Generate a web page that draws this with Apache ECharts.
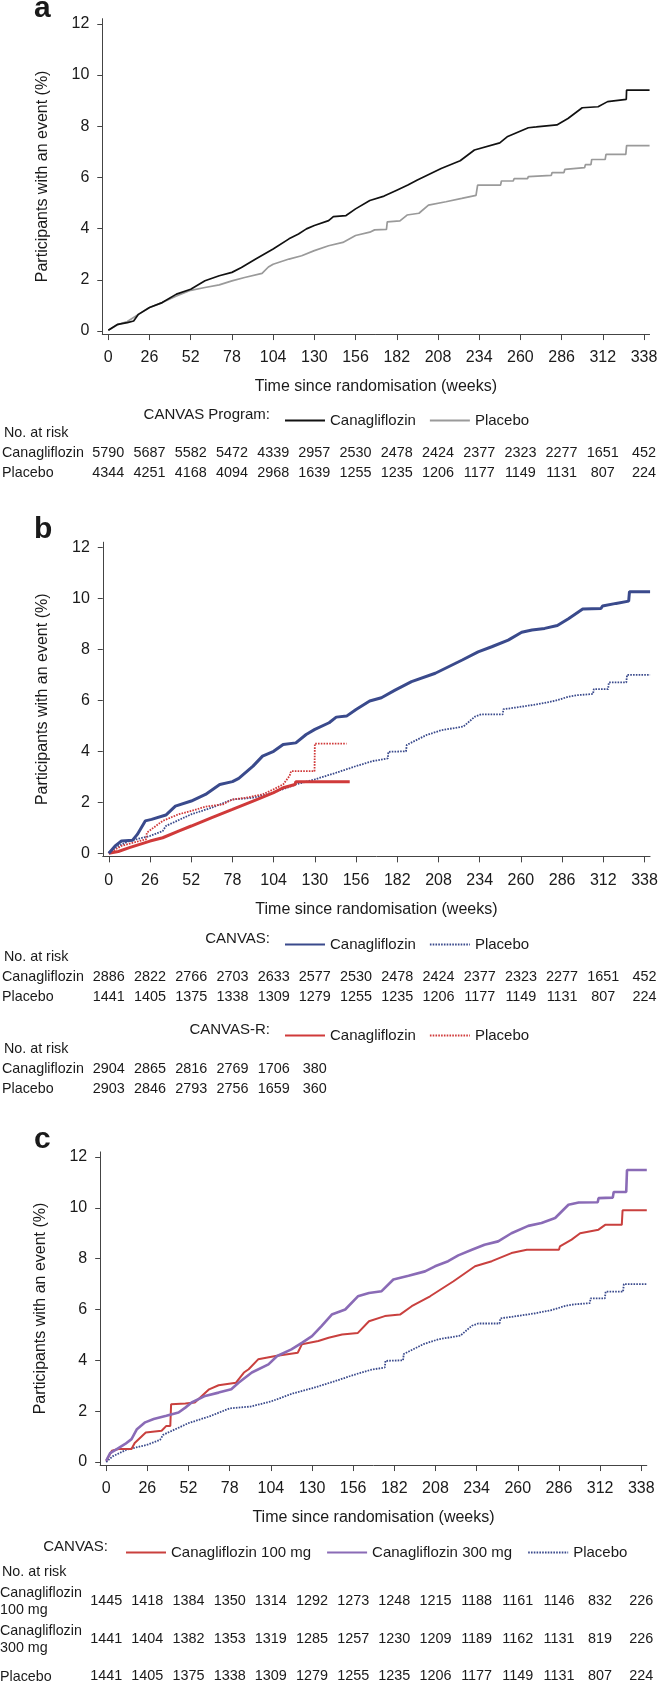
<!DOCTYPE html>
<html><head><meta charset="utf-8">
<script src="https://cdn.jsdelivr.net/npm/echarts@6/dist/echarts.min.js"></script>
<style>html,body{margin:0;padding:0;background:#fff}#c{width:661px;height:1683px}</style>
</head><body><div id="c"></div>
<script>
// ---------- DATA ----------
const weekTicks = [0,26,52,78,104,130,156,182,208,234,260,286,312,338];
const pctTicks = [0,2,4,6,8,10,12];

// Panel a: CANVAS Program  [week, % with event] (vertices of the drawn curves)
const aCanaCurve = [[0,0.03],[6,0.26],[12,0.33],[16,0.39],[19,0.65],[26,0.92],[34,1.11],[43,1.44],[52,1.63],[61,1.96],[70,2.16],[78,2.29],[84,2.48],[93,2.81],[104,3.2],[114,3.6],[120,3.79],[125,3.99],[130,4.12],[139,4.31],[142,4.47],[150,4.51],[156,4.77],[165,5.1],[174,5.27],[182,5.5],[189,5.7],[195,5.9],[210,6.35],[222,6.65],[231,7.07],[247,7.35],[252,7.6],[265,7.94],[270,7.97],[283,8.05],[290,8.3],[299,8.72],[309,8.76],[315,8.96],[326.8,9.05],[327,9.41],[341.5,9.41]];
const aPlacCurve = [[0,0.03],[6,0.25],[12,0.37],[19,0.65],[26,0.92],[34,1.11],[43,1.37],[52,1.59],[61,1.7],[70,1.8],[78,1.96],[86,2.09],[97,2.25],[101,2.5],[104,2.61],[114,2.81],[122,2.94],[130,3.14],[139,3.33],[148,3.46],[156,3.73],[165,3.86],[168,3.95],[175.5,3.97],[176,4.26],[184,4.3],[188.5,4.53],[196,4.6],[202,4.92],[213,5.05],[223,5.18],[232,5.3],[233,5.7],[247.5,5.7],[248,5.86],[255.5,5.86],[256,5.95],[264.5,5.95],[265,6.03],[279.5,6.08],[280,6.19],[287.5,6.19],[288,6.31],[300.5,6.38],[301,6.5],[304.5,6.5],[305,6.7],[313.5,6.7],[314,6.9],[326.5,6.9],[327,7.24],[341.5,7.24]];
const aCanaRisk = [5790,5687,5582,5472,4339,2957,2530,2478,2424,2377,2323,2277,1651,452];
const aPlacRisk = [4344,4251,4168,4094,2968,1639,1255,1235,1206,1177,1149,1131,807,224];

// Panel b: CANVAS and CANVAS-R
const bCanvasCanaCurve = [[0,0],[4,0.29],[8,0.48],[15,0.51],[18,0.74],[23,1.27],[27,1.33],[36,1.5],[42,1.85],[52,2.05],[61,2.31],[70,2.7],[78,2.81],[82,2.94],[91,3.42],[97,3.81],[104,4.0],[110,4.27],[118,4.33],[124.5,4.66],[130,4.86],[139,5.12],[143.5,5.34],[150,5.38],[156,5.64],[164.6,5.97],[172,6.1],[180.6,6.4],[191,6.73],[206,7.06],[223,7.58],[233,7.9],[241.6,8.1],[252,8.36],[260.5,8.67],[267,8.76],[275,8.82],[283,8.93],[290,9.2],[299,9.58],[310.5,9.6],[311.5,9.7],[320,9.8],[328,9.89],[328.5,10.26],[341.5,10.26]];
const bCanvasPlacCurve = [[0,0],[4,0.22],[12.7,0.48],[26,0.68],[34,0.87],[36,1.07],[52,1.53],[65,1.79],[78,2.11],[91,2.18],[104,2.38],[118,2.7],[130,2.9],[143.5,3.16],[156,3.42],[166.7,3.62],[176,3.72],[176.4,3.98],[187.5,4.0],[188,4.25],[200.5,4.64],[210,4.83],[223.7,4.97],[231,5.36],[235,5.45],[248.5,5.45],[249,5.65],[256,5.71],[271,5.85],[281.5,5.98],[290,6.14],[295.5,6.2],[305.5,6.25],[306,6.44],[315,6.44],[315.5,6.7],[326.5,6.7],[327,7.0],[341.5,7.0]];
const bRCanaCurve = [[0,0],[6,0.07],[13,0.22],[26,0.48],[34,0.61],[44,0.87],[52,1.07],[65,1.4],[78,1.72],[91,2.05],[104,2.38],[110,2.57],[117.5,2.7],[118,2.81],[152,2.81]];
const bRPlacCurve = [[0,0],[8,0.29],[21,0.51],[23.5,0.55],[24,0.81],[34,1.27],[44,1.53],[52,1.66],[61,1.83],[72,1.92],[78,2.11],[86.5,2.18],[97,2.31],[104,2.51],[110,2.7],[114,3.03],[115,3.22],[129.8,3.22],[130,4.3],[150,4.3]];
const bCanvasCanaRisk = [2886,2822,2766,2703,2633,2577,2530,2478,2424,2377,2323,2277,1651,452];
const bCanvasPlacRisk = [1441,1405,1375,1338,1309,1279,1255,1235,1206,1177,1149,1131,807,224];
const bRCanaRisk = [2904,2865,2816,2769,1706,380];
const bRPlacRisk = [2903,2846,2793,2756,1659,360];

// Panel c: CANVAS by dose
const c100Curve = [[0,0.05],[3.6,0.44],[7.8,0.51],[16,0.51],[18,0.75],[25,1.16],[35,1.23],[38,1.42],[40.5,1.42],[41,2.27],[50,2.3],[56,2.34],[65,2.86],[71,3.02],[82,3.12],[87,3.52],[90,3.65],[96,4.04],[107,4.17],[121,4.3],[123.6,4.63],[134,4.76],[140.5,4.89],[149,5.02],[159,5.08],[166,5.54],[176,5.74],[185.6,5.8],[193,6.13],[204.6,6.52],[219.4,7.11],[233,7.7],[243.6,7.9],[256,8.22],[265.7,8.35],[286,8.35],[286.6,8.48],[294,8.75],[299.4,9.0],[311,9.14],[315.2,9.33],[325.7,9.33],[326.2,9.9],[341.5,9.9]];
const c300Curve = [[0,0.05],[2.5,0.35],[6.7,0.51],[12,0.71],[16,0.9],[19.4,1.29],[24.6,1.56],[30,1.69],[38,1.82],[45.7,1.95],[50,2.14],[54,2.34],[62.5,2.6],[71,2.73],[79,2.86],[83.6,3.12],[92,3.52],[102.5,3.84],[108,4.17],[117,4.43],[123.6,4.69],[130,4.95],[136,5.35],[142.5,5.8],[151,6.0],[159,6.52],[166,6.65],[174,6.72],[181.4,7.18],[191,7.33],[201.4,7.5],[207.7,7.7],[216,7.9],[222.4,8.13],[231,8.35],[239,8.55],[247.6,8.68],[256,9.0],[266.6,9.29],[275,9.4],[283.6,9.6],[292,10.12],[298.5,10.21],[310.5,10.22],[311,10.38],[320,10.4],[320.6,10.62],[328.5,10.62],[329,11.49],[341.5,11.49]];
const cPlacCurve = bCanvasPlacCurve;
const c100Risk = [1445,1418,1384,1350,1314,1292,1273,1248,1215,1188,1161,1146,832,226];
const c300Risk = [1441,1404,1382,1353,1319,1285,1257,1230,1209,1189,1162,1131,819,226];
const cPlacRisk = [1441,1405,1375,1338,1309,1279,1255,1235,1206,1177,1149,1131,807,224];

// ---------- LAYOUT ----------
const FONT = '"Liberation Sans", Arial, Helvetica, sans-serif';
const TXT = '#1a1a1a';
const XMIN = -3.8, XMAX = 341.5, YMIN = -0.12, YMAX = 12.2;
const panels = [
  {x0:108.3, ppw:1.585, y0:331, ppu:25.6},
  {x0:108.8, ppw:1.585, y0:853.3, ppu:25.5},
  {x0:106.2, ppw:1.583, y0:1463, ppu:25.5}
];
const grids = panels.map(p => ({
  left: p.x0 + XMIN*p.ppw,
  width: (XMAX-XMIN)*p.ppw,
  top: p.y0 - YMAX*p.ppu,
  height: (YMAX-YMIN)*p.ppu
}));
const gridBottom = grids.map(g => g.top + g.height);

function mainX(g){
  return {type:'value', gridIndex:g, min:XMIN, max:XMAX,
    axisLine:{show:true,onZero:false,lineStyle:{color:'#444',width:1}},
    axisTick:{show:true,length:6,customValues:weekTicks,lineStyle:{color:'#444',width:1}},
    axisLabel:{customValues:weekTicks,margin:24,verticalAlign:'middle',fontSize:16,color:TXT,fontFamily:FONT},
    splitLine:{show:false},
    name:'Time since randomisation (weeks)', nameLocation:'middle', nameGap:53,
    nameTextStyle:{fontSize:16,color:TXT,fontFamily:FONT,verticalAlign:'middle'}};
}
function mainY(g){
  return {type:'value', gridIndex:g, min:YMIN, max:YMAX,
    axisLine:{show:true,onZero:false,lineStyle:{color:'#444',width:1}},
    axisTick:{show:true,length:5,customValues:pctTicks,lineStyle:{color:'#444',width:1}},
    axisLabel:{customValues:pctTicks,margin:13,fontSize:16,color:TXT,fontFamily:FONT},
    splitLine:{show:false},
    name:'Participants with an event (%)', nameLocation:'middle', nameGap:60,
    nameTextStyle:{fontSize:16,color:TXT,fontFamily:FONT,verticalAlign:'middle'}};
}
function riskX(g, values, rowY){
  return {type:'value', gridIndex:g, min:XMIN, max:XMAX, position:'bottom',
    offset: rowY - gridBottom[g],
    axisLine:{show:false,onZero:false}, axisTick:{show:false}, splitLine:{show:false},
    axisLabel:{customValues:weekTicks.slice(0, values.length),
      formatter: v => String(values[weekTicks.indexOf(v)]),
      margin:0, verticalAlign:'middle', fontSize:14.4, color:TXT, fontFamily:FONT}};
}
const xAxes = [mainX(0), mainX(1), mainX(2),
  riskX(0, aCanaRisk, 453), riskX(0, aPlacRisk, 473),
  riskX(1, bCanvasCanaRisk, 977), riskX(1, bCanvasPlacRisk, 997),
  riskX(1, bRCanaRisk, 1069), riskX(1, bRPlacRisk, 1089),
  riskX(2, c100Risk, 1602), riskX(2, c300Risk, 1640), riskX(2, cPlacRisk, 1677)];

function curve(name, g, data, color, width, dotted){
  return {name, type:'line', xAxisIndex:g, yAxisIndex:g, data,
    symbol:'none', showSymbol:false, animation:false, silent:true,
    lineStyle:{color, width, type: dotted ? [1.6,1.2] : 'solid'},
    itemStyle:{color}};
}
const BLACK='#111', GREY='#9a9a9a', BLUE='#3a4a8c', RED='#d03a3a', RED2='#c9403e', PURPLE='#8a6bb6';
const series = [
  curve('CANVAS Program|Placebo', 0, aPlacCurve, GREY, 1.7, false),
  curve('CANVAS Program|Canagliflozin', 0, aCanaCurve, BLACK, 1.7, false),
  curve('CANVAS|Placebo', 1, bCanvasPlacCurve, BLUE, 1.8, true),
  curve('CANVAS-R|Placebo', 1, bRPlacCurve, RED, 1.8, true),
  curve('CANVAS-R|Canagliflozin', 1, bRCanaCurve, RED, 3, false),
  curve('CANVAS|Canagliflozin', 1, bCanvasCanaCurve, BLUE, 3, false),
  curve('CANVASc|Placebo', 2, cPlacCurve, BLUE, 1.8, true),
  curve('CANVASc|Canagliflozin 100 mg', 2, c100Curve, RED2, 2, false),
  curve('CANVASc|Canagliflozin 300 mg', 2, c300Curve, PURPLE, 2.6, false)
];

function legend(left, cy, names, gap){
  return {left, top: cy-7, itemWidth:40, itemHeight:14, itemGap:gap, selectedMode:false,
    data:names, formatter: n => n.split('|')[1],
    itemStyle:{color:'rgba(0,0,0,0)', borderWidth:0, opacity:0},
    lineStyle:{width:2},
    textStyle:{fontSize:15,color:TXT,fontFamily:FONT}};
}
const legends = [
  legend(279, 415, ['CANVAS Program|Canagliflozin','CANVAS Program|Placebo'], 13),
  legend(279, 939, ['CANVAS|Canagliflozin','CANVAS|Placebo'], 13),
  legend(279, 1030, ['CANVAS-R|Canagliflozin','CANVAS-R|Placebo'], 13),
  legend(120, 1547, ['CANVASc|Canagliflozin 100 mg','CANVASc|Canagliflozin 300 mg','CANVASc|Placebo'], 15)
];

function txt(x, y, text, size, align, weight){
  return {type:'text', x, y, silent:true, style:{text, fill:TXT,
    font:(weight||'normal')+' '+size+'px '+FONT,
    textAlign:align||'left', textVerticalAlign:'middle', align:align||'left', verticalAlign:'middle'}};
}
const graphics = [
  txt(34, 9, 'a', 30, 'left', 'bold'),
  txt(34, 530, 'b', 30, 'left', 'bold'),
  txt(34, 1140, 'c', 30, 'left', 'bold'),
  txt(270, 415, 'CANVAS Program:', 15, 'right'),
  txt(270, 939, 'CANVAS:', 15, 'right'),
  txt(270, 1030, 'CANVAS-R:', 15, 'right'),
  txt(108, 1547, 'CANVAS:', 15, 'right'),
  txt(4, 433, 'No. at risk', 14.3),
  txt(2, 453, 'Canagliflozin', 14.3),
  txt(2, 473, 'Placebo', 14.3),
  txt(4, 957, 'No. at risk', 14.3),
  txt(2, 977, 'Canagliflozin', 14.3),
  txt(2, 997, 'Placebo', 14.3),
  txt(4, 1049, 'No. at risk', 14.3),
  txt(2, 1069, 'Canagliflozin', 14.3),
  txt(2, 1089, 'Placebo', 14.3),
  txt(2, 1572, 'No. at risk', 14.3),
  txt(0, 1593, 'Canagliflozin', 14.3),
  txt(0, 1610, '100 mg', 14.3),
  txt(0, 1631, 'Canagliflozin', 14.3),
  txt(0, 1648, '300 mg', 14.3),
  txt(0, 1677, 'Placebo', 14.3)
];

const chart = echarts.init(document.getElementById('c'), null, {renderer:'canvas'});
chart.setOption({
  animation:false,
  backgroundColor:'#fff',
  grid: grids.map(g => Object.assign({containLabel:false}, g)),
  xAxis: xAxes,
  yAxis: [mainY(0), mainY(1), mainY(2)],
  legend: legends,
  series,
  graphic: graphics
});
</script></body></html>
